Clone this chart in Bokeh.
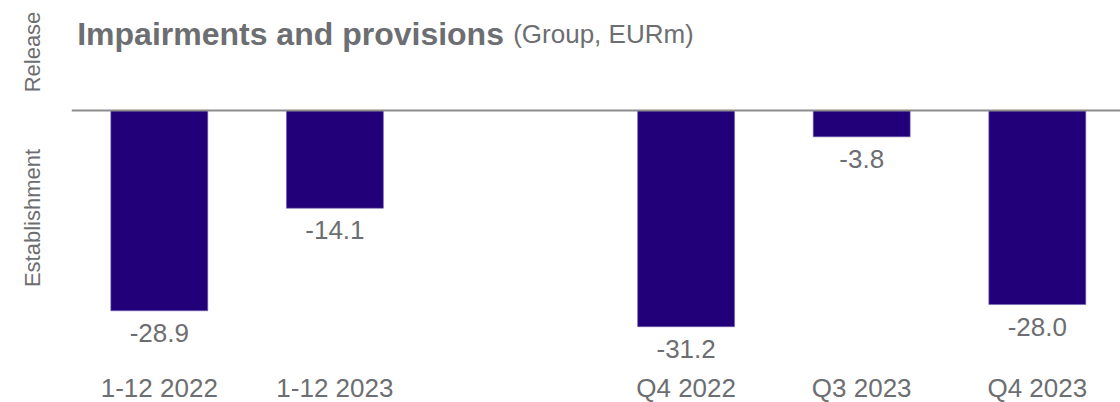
from bokeh.plotting import figure
from bokeh.models import Range1d, Span, Label, FixedTicker, LinearAxis, ColumnDataSource
from bokeh.core.properties import value
from bokeh.embed import file_html
from bokeh.resources import INLINE

# ---- data ----
annual_labels = ["1-12 2022", "1-12 2023"]
annual_values = [-28.9, -14.1]
quarter_labels = ["Q4 2022", "Q3 2023", "Q4 2023"]
quarter_values = [-31.2, -3.8, -28.0]
side_labels = ["Release", "Establishment"]
title_main = "Impairments and provisions"
title_sub = "(Group, EURm)"

# ---- derived ----
labels = annual_labels + quarter_labels
values = annual_values + quarter_values
xs = list(range(len(annual_labels))) + [len(annual_labels) + 1 + i for i in range(len(quarter_labels))]
value_text = [f"{v:.1f}" for v in values]

# ---- layout / style ----
FONT_NAME = "Liberation Sans"
FONT = value(FONT_NAME)
GRAY = "#6d6e71"
BAR = "#22007a"
W, H = 1120, 402
LEFT = 71
PX_PER_UNIT = 6.93
SLOT_PX = 175.6
BASE_Y = 110
x_end = -0.5 + (W - LEFT) / SLOT_PX
y_top = BASE_Y / PX_PER_UNIT
y_bot = -(H - BASE_Y) / PX_PER_UNIT
cat_label_y = -(372 - BASE_Y) / PX_PER_UNIT

p = figure(width=W, height=H, output_backend="svg", toolbar_location=None,
           x_range=Range1d(-0.5, x_end), y_range=Range1d(y_bot, y_top),
           x_axis_location=None, y_axis_location=None,
           min_border_left=LEFT, min_border_right=0, min_border_top=0, min_border_bottom=0)
p.outline_line_color = None
p.xgrid.visible = False
p.ygrid.visible = False
p.background_fill_color = "white"
p.border_fill_color = "white"

src = ColumnDataSource(dict(x=xs, v=values, t=value_text, lab=labels,
                            yc=[cat_label_y] * len(xs)))

p.vbar(x="x", top=0, bottom="v", width=0.552, source=src,
       fill_color=BAR, line_color="#6f62ad", line_width=0.6)

p.text(x="x", y="v", text="t", source=src, text_align="center", text_baseline="top",
       y_offset=13, text_font=FONT, text_font_size="26px", text_color=GRAY)

p.text(x="x", y="yc", text="lab", source=src, text_align="center", text_baseline="top",
       text_font=FONT, text_font_size="26px", text_color=GRAY)

p.add_layout(Span(location=0, dimension="width", line_color="#8c8c8c", line_width=2))

# side labels as a left axis
rel_pos, est_pos = 8.44, -15.51
yax = LinearAxis(ticker=FixedTicker(ticks=[rel_pos, est_pos]),
                 major_label_overrides={rel_pos: side_labels[0], est_pos: side_labels[1]},
                 major_label_orientation="vertical",
                 major_label_standoff=20,
                 major_label_text_font=FONT_NAME, major_label_text_font_size="22px",
                 major_label_text_color=GRAY,
                 axis_line_color=None, major_tick_line_color=None, minor_tick_line_color=None)
p.add_layout(yax, "left")

p.add_layout(Label(x=76.7 - LEFT, y=H - 15.0, x_units="screen", y_units="screen", text=title_main,
                   text_font=FONT_NAME, text_font_size="32px", text_font_style="bold",
                   text_color=GRAY, text_baseline="top"))
p.add_layout(Label(x=512.7 - LEFT, y=H - 18.0, x_units="screen", y_units="screen", text=title_sub,
                   text_font=FONT_NAME, text_font_size="26px",
                   text_color=GRAY, text_baseline="top"))

open("out.html", "w").write(file_html(p, INLINE))
